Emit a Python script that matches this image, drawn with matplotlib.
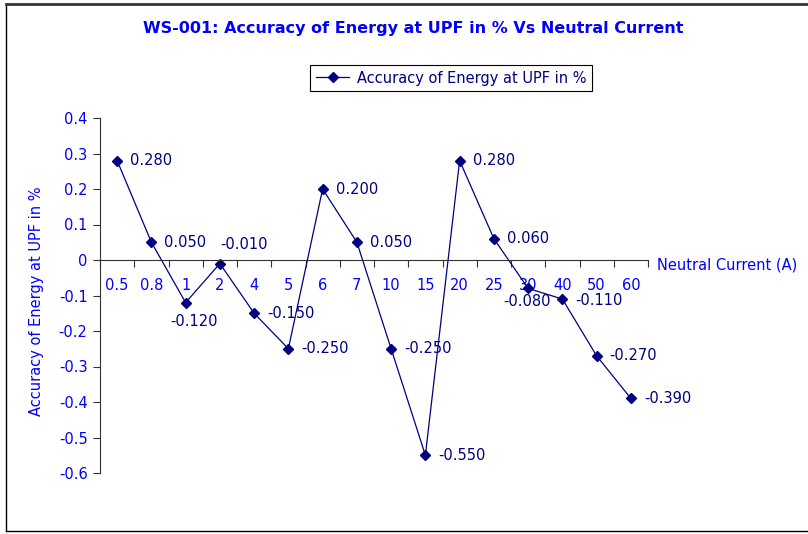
import numpy as np
import matplotlib
matplotlib.use('Agg')
import matplotlib.pyplot as plt
from matplotlib.lines import Line2D

plt.rcParams['font.family'] = ['DejaVu Sans']

# data
currents = ['0.5', '0.8', '1', '2', '4', '5', '6', '7', '10', '15', '20', '25', '30', '40', '50', '60']
accuracy = [0.280, 0.050, -0.120, -0.010, -0.150, -0.250, 0.200, 0.050, -0.250, -0.550,
            0.280, 0.060, -0.080, -0.110, -0.270, -0.390]
y_ticks = [0.4, 0.3, 0.2, 0.1, 0, -0.1, -0.2, -0.3, -0.4, -0.5, -0.6]

title = 'WS-001: Accuracy of Energy at UPF in % Vs Neutral Current'
series_name = 'Accuracy of Energy at UPF in %'

blue = '#0000ff'
navy = '#000080'
fs = 10.5

fig = plt.figure(figsize=(8.08, 5.34), dpi=100)
ax = fig.add_axes([100/808, 1 - 473/534, 548/808, 355/534])

x = np.arange(len(currents))
line, = ax.plot(x, accuracy, color=navy, lw=0.9, marker='D', ms=5, mfc=navy, mec=navy)

ax.set_xlim(-0.5, len(currents) - 0.5)
ax.set_ylim(-0.6, 0.4)

# axes look like the old excel ones
ax.spines['top'].set_visible(False)
ax.spines['right'].set_visible(False)
ax.spines['bottom'].set_position(('data', 0))
ax.spines['left'].set_color('#333333')
ax.spines['bottom'].set_color('#333333')
ax.spines['left'].set_linewidth(0.8)
ax.spines['bottom'].set_linewidth(0.8)

ax.set_yticks(y_ticks)
ax.set_yticklabels([('%g' % v) for v in y_ticks])
ax.tick_params(axis='y', direction='out', length=5, width=0.8, color='#333333',
               labelsize=fs, labelcolor=blue, pad=4)

ax.set_xticks(x)
ax.set_xticklabels(currents)
ax.set_xticks(np.arange(-0.5, len(currents)), minor=True)
ax.tick_params(axis='x', which='major', length=0, labelsize=fs, labelcolor=blue, pad=13)
ax.tick_params(axis='x', which='minor', direction='out', length=5, width=0.8, color='#333333')

# value labels, a few moved so they do not sit on the line
offsets = {2: (8, -19, 'center'), 3: (24, 19, 'center'), 12: (-1, -13, 'center'),
           13: (13, -1, 'left')}
for i, v in enumerate(accuracy):
    dx, dy, ha = offsets.get(i, (13, 0, 'left'))
    ax.annotate('%.3f' % v, (x[i], v), xytext=(dx * 0.72, dy * 0.72), textcoords='offset points',
                ha=ha, va='center', fontsize=fs, color=navy)

fig.text(413/808, 1 - 28/534, title, ha='center', va='center', fontsize=11.5,
         fontweight='bold', color=blue)
fig.text(657/808, 1 - 265/534, 'Neutral Current (A)', ha='left', va='center',
         fontsize=fs, color=blue)
fig.text(37/808, 1 - 301/534, series_name, rotation=90, ha='center', va='center',
         fontsize=fs, color=blue)

leg = fig.legend([line], [series_name], loc='center', bbox_to_anchor=(451/808, 1 - 78/534),
                 fancybox=False, edgecolor='black', fontsize=fs, handlelength=2.3,
                 borderpad=0.4, handletextpad=0.5, framealpha=1)
leg.get_frame().set_linewidth(0.8)
for t in leg.get_texts():
    t.set_color(navy)

# outer chart border
fig.add_artist(Line2D([6/808, 6/808], [1 - 4/534, 1 - 531/534], color='black', lw=1))
fig.add_artist(Line2D([6/808, 1], [1 - 531/534, 1 - 531/534], color='black', lw=1))
fig.add_artist(Line2D([6/808, 1], [1 - 4/534, 1 - 4/534], color='#333333', lw=2))

fig.savefig('out.png', dpi=100)
